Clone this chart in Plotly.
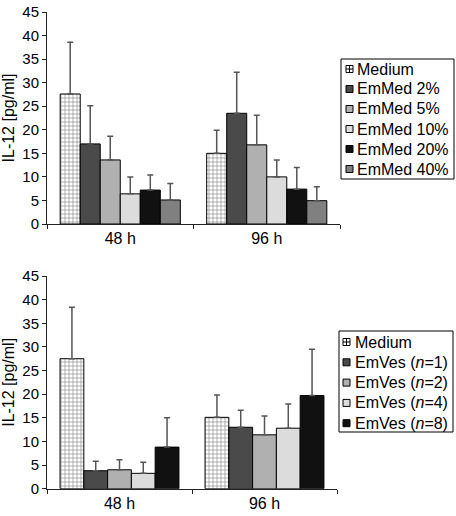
import plotly.graph_objects as go

W, H = 456, 516

# ---- data ----
times = ["48 h", "96 h"]

top_names = ["Medium", "EmMed 2%", "EmMed 5%", "EmMed 10%", "EmMed 20%", "EmMed 40%"]
top_means = [
    [27.6, 15.0],
    [17.0, 23.5],
    [13.6, 16.8],
    [6.4, 10.0],
    [7.2, 7.4],
    [5.1, 4.95],
]
top_upper = [
    [38.6, 19.9],
    [25.1, 32.2],
    [18.6, 23.1],
    [10.0, 13.6],
    [10.4, 12.0],
    [8.6, 7.9],
]

bot_names = ["Medium", "EmVes (<i>n</i>=1)", "EmVes (<i>n</i>=2)",
             "EmVes (<i>n</i>=4)", "EmVes (<i>n</i>=8)"]
bot_means = [
    [27.5, 15.1],
    [3.8, 13.0],
    [4.0, 11.4],
    [3.25, 12.8],
    [8.8, 19.7],
]
bot_upper = [
    [38.4, 19.8],
    [5.8, 16.6],
    [6.1, 15.4],
    [5.6, 17.9],
    [15.0, 29.5],
]

y_ticks = [0, 5, 10, 15, 20, 25, 30, 35, 40, 45]

# ---- styles ----
top_colors = [None, "#4a4a4a", "#b0b0b0", "#dcdcdc", "#111111", "#808080"]
bot_colors = [None, "#4a4a4a", "#b0b0b0", "#dcdcdc", "#111111"]
FONT = "Liberation Sans, Arial, sans-serif"

fig = go.Figure()


def add_series(names, means, uppers, colors, xa, ya):
    for i, name in enumerate(names):
        err = [u - m for u, m in zip(uppers[i], means[i])]
        if colors[i] is None:
            marker = dict(color="white",
                          pattern=dict(shape="+", size=4, solidity=0.3,
                                       fgcolor="#111111", bgcolor="white"),
                          line=dict(color="black", width=1))
        else:
            marker = dict(color=colors[i], line=dict(color="black", width=1))
        fig.add_trace(go.Bar(
            x=times, y=means[i], name=name, marker=marker,
            xaxis=xa, yaxis=ya, showlegend=False, hoverinfo="skip",
            error_y=dict(type="data", symmetric=False, array=err,
                         arrayminus=[0] * len(err), color="#555555",
                         thickness=1.5, width=3),
        ))


add_series(top_names, top_means, top_upper, top_colors, "x", "y")
add_series(bot_names, bot_means, bot_upper, bot_colors, "x2", "y2")


def px_x(p):
    return p / W


def px_y(p):
    return 1 - p / H


shapes = []
annotations = []


def add_legend(names, colors, box, first_row, row_h, icon_x, text_x):
    x0, y0, x1, y1 = box
    shapes.append(dict(type="rect", xref="paper", yref="paper",
                       x0=px_x(x0), x1=px_x(x1), y0=px_y(y0), y1=px_y(y1),
                       line=dict(color="black", width=1), fillcolor="white"))
    for i, name in enumerate(names):
        cy = first_row + i * row_h
        s = 7
        ix0, ix1 = icon_x, icon_x + s
        iy0, iy1 = cy - s / 2, cy + s / 2
        fill = "white" if colors[i] is None else colors[i]
        shapes.append(dict(type="rect", xref="paper", yref="paper",
                           x0=px_x(ix0), x1=px_x(ix1), y0=px_y(iy0), y1=px_y(iy1),
                           line=dict(color="black", width=1), fillcolor=fill))
        if colors[i] is None:
            shapes.append(dict(type="line", xref="paper", yref="paper",
                               x0=px_x((ix0 + ix1) / 2), x1=px_x((ix0 + ix1) / 2),
                               y0=px_y(iy0), y1=px_y(iy1),
                               line=dict(color="black", width=1)))
            shapes.append(dict(type="line", xref="paper", yref="paper",
                               x0=px_x(ix0), x1=px_x(ix1),
                               y0=px_y(cy), y1=px_y(cy),
                               line=dict(color="black", width=1)))
        annotations.append(dict(xref="paper", yref="paper", x=px_x(text_x), y=px_y(cy),
                                xanchor="left", yanchor="middle", showarrow=False,
                                borderpad=0,
                                text=name, font=dict(family=FONT, size=16, color="black")))


add_legend(top_names, top_colors, (341, 59, 454, 179), 69, 20, 346, 356)
add_legend(bot_names, bot_colors, (339, 331, 453, 432), 342, 20.3, 343, 354)

axis_common = dict(showline=True, linecolor="#222222", linewidth=1, ticks="outside",
                   ticklen=4, tickcolor="#222222", showgrid=False, zeroline=False,
                   automargin=False, fixedrange=True)

ytick_font = dict(family=FONT, size=15, color="black")
xtick_font = dict(family=FONT, size=16, color="black")
title_font = dict(family=FONT, size=16, color="black")

fig.update_layout(
    width=W, height=H, margin=dict(l=0, r=0, t=0, b=0, autoexpand=False),
    paper_bgcolor="white", plot_bgcolor="white",
    font=dict(family=FONT),
    barmode="group", bargap=0.18, bargroupgap=0,
    showlegend=False,
    xaxis=dict(domain=[47 / W, 340 / W], anchor="y", type="category", tickson="boundaries",
               tickfont=xtick_font, **axis_common),
    yaxis=dict(domain=[1 - 224 / H, 1 - 12 / H], anchor="x", range=[0, 45],
               tickvals=y_ticks, tickfont=ytick_font,
               title=dict(text="IL-12 [pg/ml]", standoff=6, font=title_font),
               **axis_common),
    xaxis2=dict(domain=[47 / W, 337 / W], anchor="y2", type="category", tickson="boundaries",
                tickfont=xtick_font, **axis_common),
    yaxis2=dict(domain=[1 - 488.7 / H, 1 - 276 / H], anchor="x2", range=[0, 45],
                tickvals=y_ticks, tickfont=ytick_font,
                title=dict(text="IL-12 [pg/ml]", standoff=6, font=title_font),
                **axis_common),
    shapes=shapes, annotations=annotations,
)

fig.write_html("out.html", config={"displayModeBar": False},
               post_script="document.body.style.margin='0';document.body.style.padding='0';")
